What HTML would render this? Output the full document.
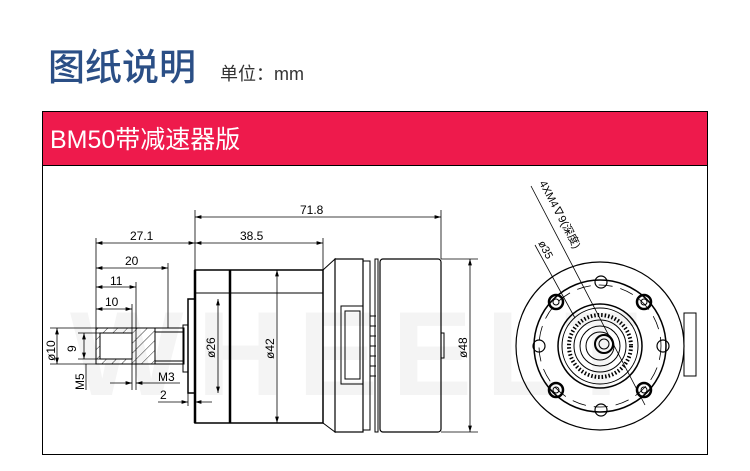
<!DOCTYPE html>
<html><head><meta charset="utf-8"><style>
body{margin:0;width:750px;height:466px;background:#fff;overflow:hidden;font-family:"Liberation Sans","Noto Sans CJK SC",sans-serif}
</style></head><body>
<svg width="750" height="466" viewBox="0 0 750 466" xmlns="http://www.w3.org/2000/svg" font-family="Liberation Sans, Noto Sans CJK SC, sans-serif">
<defs>
<marker id="a" viewBox="0 0 10 6" refX="10" refY="3" markerWidth="8" markerHeight="5" orient="auto-start-reverse"><path d="M0,0L10,3L0,6z" fill="#000"/></marker>
<pattern id="h" width="7" height="7" patternUnits="userSpaceOnUse" patternTransform="rotate(45)"><line x1="0" y1="0" x2="0" y2="7" stroke="#000" stroke-width="0.8"/></pattern>
</defs>
<text x="48" y="80" font-size="37" fill="#2b4f86" font-weight="500" font-family="Noto Sans CJK SC, sans-serif">图纸说明</text>
<text x="220" y="80" font-size="18" fill="#333" font-family="Liberation Sans, Noto Sans CJK SC, sans-serif">单位：mm</text>
<rect x="42.5" y="111.5" width="665" height="343" fill="#fff" stroke="#000"/>
<rect x="43" y="112" width="664" height="53" fill="#ee1a4c"/>
<line x1="42" y1="165.5" x2="708" y2="165.5" stroke="#000"/>
<text x="50" y="148" font-size="25" fill="#fff">BM50带减速器版</text>
<!-- watermark -->
<text x="70" y="395" font-size="120" fill="#f4f4f4" font-weight="bold" letter-spacing="14">WHEELT</text>
<g fill="none" stroke="#000" stroke-width="1">
<!-- shaft -->
<rect x="96" y="328" width="59" height="36" fill="url(#h)"/>
<rect x="100" y="333" width="32" height="26" fill="#fff"/>
<path d="M96,328H184V364H96Z"/>
<path d="M155,332H184M155,361H184"/>
<path d="M183,325H188V372H183Z"/>
<path d="M188,299H195V393H188Z" stroke-width="1.5"/>
<!-- gear body -->
<rect x="195" y="270" width="128" height="153" stroke-width="1.5"/>
<line x1="230" y1="270" x2="230" y2="423" stroke-width="2.5"/>
<line x1="195" y1="293" x2="323" y2="293"/>
<line x1="195" y1="270" x2="195" y2="423" stroke-width="2.5"/>
<path d="M323,270L335,259V432L323,423"/>
<rect x="335" y="259" width="28" height="173" stroke-width="1.2"/>
<rect x="363" y="261" width="7" height="169"/>
<rect x="375" y="259" width="3" height="173"/>
<rect x="380" y="259" width="61" height="173" rx="3" stroke-width="1.2"/>
<rect x="441" y="333" width="3" height="25"/>
<rect x="341" y="306" width="22" height="78"/>
<rect x="345" y="311" width="15" height="68"/>
<path d="M370,316H376M370,326H376M370,336H376M370,346H376M370,356H376M370,366H376M370,376H376"/>
<!-- dimensions -->
<g stroke-width="0.8">
<line x1="195" y1="217" x2="441" y2="217" marker-start="url(#a)" marker-end="url(#a)"/>
<line x1="195" y1="210" x2="195" y2="270"/><line x1="441" y1="210" x2="441" y2="259"/>
<line x1="195" y1="243" x2="323" y2="243" marker-start="url(#a)" marker-end="url(#a)"/>
<line x1="323" y1="238" x2="323" y2="270"/>
<line x1="96" y1="243" x2="195" y2="243" marker-start="url(#a)" marker-end="url(#a)"/>
<line x1="96" y1="238" x2="96" y2="328"/>
<line x1="96" y1="268" x2="168" y2="268" marker-start="url(#a)" marker-end="url(#a)"/>
<line x1="168" y1="263" x2="168" y2="328"/>
<line x1="96" y1="287" x2="136" y2="287" marker-start="url(#a)" marker-end="url(#a)"/>
<line x1="136" y1="282" x2="136" y2="390"/>
<line x1="96" y1="309" x2="132" y2="309" marker-start="url(#a)" marker-end="url(#a)"/>
<line x1="132" y1="304" x2="132" y2="390"/>
<line x1="57" y1="328" x2="57" y2="364" marker-start="url(#a)" marker-end="url(#a)"/>
<line x1="50" y1="328" x2="96" y2="328"/><line x1="50" y1="364" x2="96" y2="364"/>
<line x1="84" y1="333" x2="84" y2="359" marker-start="url(#a)" marker-end="url(#a)"/>
<line x1="78" y1="333" x2="100" y2="333"/><line x1="78" y1="359" x2="100" y2="359"/>
<line x1="86" y1="364" x2="86" y2="390"/>
<line x1="110" y1="383" x2="132" y2="383" marker-end="url(#a)"/>
<line x1="136" y1="383" x2="150" y2="383" marker-start="url(#a)"/><line x1="150" y1="383" x2="180" y2="383"/>
<line x1="158" y1="402" x2="188" y2="402" marker-end="url(#a)"/>
<line x1="195" y1="402" x2="212" y2="402" marker-start="url(#a)"/>
<line x1="188" y1="393" x2="188" y2="406"/>
<line x1="218" y1="299" x2="218" y2="393" marker-start="url(#a)" marker-end="url(#a)"/>
<line x1="277" y1="270" x2="277" y2="423" marker-start="url(#a)" marker-end="url(#a)"/>
<line x1="470" y1="259" x2="470" y2="432" marker-start="url(#a)" marker-end="url(#a)"/>
<line x1="441" y1="259" x2="478" y2="259"/><line x1="441" y1="432" x2="478" y2="432"/>
</g>
<!-- end view -->
<circle cx="600" cy="346" r="84" stroke-width="1.2"/>
<circle cx="600" cy="346" r="66" stroke-width="1.5"/>
<circle cx="600" cy="346" r="61" stroke-dasharray="14,8" stroke-width="0.8"/>
<circle cx="600" cy="346" r="42" stroke-width="1.5"/>
<circle cx="600" cy="346" r="38"/>
<circle cx="600" cy="346" r="31" stroke-width="4" stroke-dasharray="1.5,2"/>
<circle cx="600" cy="346" r="26"/>
<circle cx="600" cy="346" r="20"/>
<circle cx="600" cy="346" r="14"/>
<circle cx="604" cy="344" r="9" stroke-width="2"/>
<circle cx="604" cy="344" r="5"/>
<g stroke-width="2.5"><circle cx="556" cy="302" r="7"/><circle cx="644" cy="302" r="7"/><circle cx="556" cy="390" r="7"/><circle cx="644" cy="390" r="7"/></g>
<g><circle cx="556" cy="302" r="3"/><circle cx="644" cy="302" r="3"/><circle cx="556" cy="390" r="3"/><circle cx="644" cy="390" r="3"/></g>
<g stroke-width="1.2"><circle cx="601" cy="282" r="6"/><circle cx="539" cy="346" r="6"/><circle cx="663" cy="346" r="6"/><circle cx="601" cy="410" r="6"/></g>
<rect x="684" y="313" width="12" height="63"/>
<line x1="531" y1="186" x2="645" y2="405" stroke-width="0.8"/>
<line x1="535" y1="245" x2="575" y2="318" stroke-width="0.8"/>
</g>
<g font-size="12" fill="#000">
<text x="300" y="214">71.8</text>
<text x="240" y="240">38.5</text>
<text x="130" y="240">27.1</text>
<text x="125" y="265">20</text>
<text x="110" y="285">11</text>
<text x="105" y="306">10</text>
<text x="158" y="381">M3</text>
<text x="160" y="399">2</text>
<text transform="translate(55,361) rotate(-90)">ø10</text>
<text transform="translate(76,352) rotate(-90)">9</text>
<text transform="translate(84,390) rotate(-90)">M5</text>
<text transform="translate(215,358) rotate(-90)">ø26</text>
<text transform="translate(274,359) rotate(-90)">ø42</text>
<text transform="translate(467,358) rotate(-90)">ø48</text>
<text transform="translate(539,183) rotate(62)" font-size="11">4XM4∇9(深度)</text>
<text transform="translate(538,243) rotate(62)" font-size="11">ø35</text>
</g>
</svg>
</body></html>
